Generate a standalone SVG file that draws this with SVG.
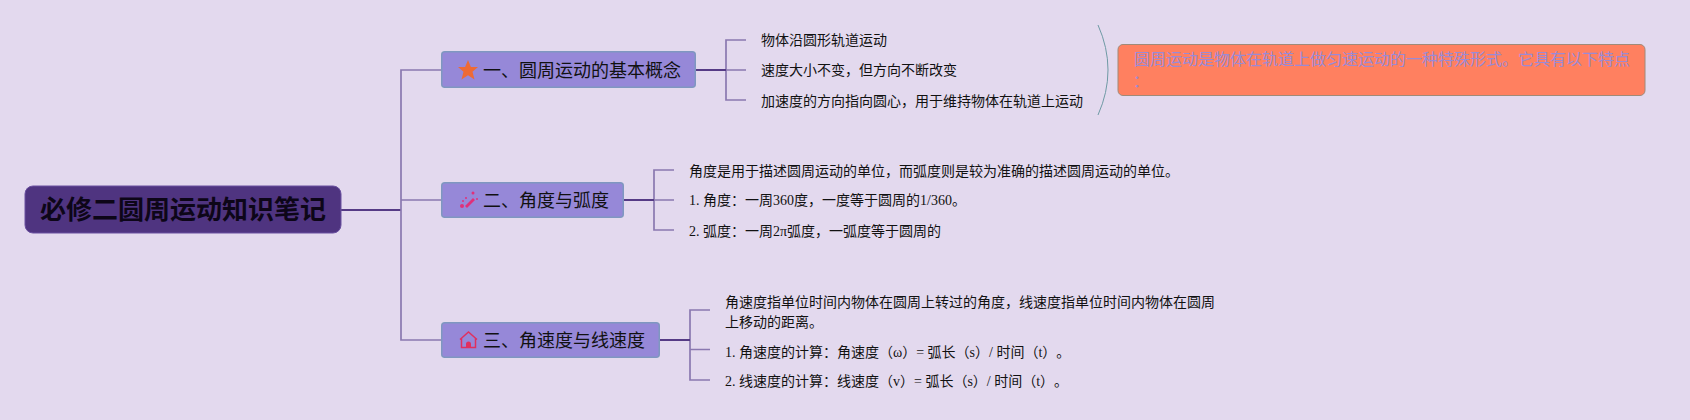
<svg xmlns="http://www.w3.org/2000/svg" width="1690" height="420" viewBox="0 0 1690 420">
<style>
text{font-family:"Liberation Serif","Noto Sans CJK SC",sans-serif;fill:#111;text-spacing-trim:space-all;font-kerning:none}
.leaf{font-size:14px}
.main{font-size:18px}
.sub{fill:#9688d8;stroke:#7f97c0;stroke-width:1.500}
.lt{fill:none;stroke:#8a78b0;stroke-width:1.700}
.dk{fill:none;stroke:#553a85;stroke-width:2}
</style>
<rect width="1690" height="420" fill="#e3d9ee"/>
<g id="connectors">
<path class="dk" d="M341 210H401"/>
<path class="lt" d="M441 70H401V340H441M401 200H441"/>
<path class="lt" d="M746 40H726V100H746M726 70H746"/>
<path class="dk" d="M696 70H726"/>
<path class="lt" d="M674 170H654V230H674M654 200H674"/>
<path class="dk" d="M624 200H654"/>
<path class="lt" d="M710 310H690V380H710M690 349.500H710"/>
<path class="dk" d="M660 340H690"/>
<path d="M1098 25Q1118 70 1098 115" fill="none" stroke="#6f9aa5" stroke-width="1"/>
</g>
<g id="root">
<rect x="25" y="186" width="316" height="47" rx="8" fill="#4f3480" stroke="#6a50a0" stroke-width="1"/>
<text x="40" y="219" font-size="26" font-weight="700" style="fill:#0d0618">必修二圆周运动知识笔记</text>
</g>
<g id="node1">
<rect class="sub" x="441.750" y="51.750" width="253.500" height="35.500" rx="3"/>
<path d="M468 60L470.900 67H478L472.500 71.800L474.500 79.500L468 75.300L461.500 79.500L463.500 71.800L458 67H465.100Z" fill="#ee6a35"/>
<text class="main" x="483" y="77">一、圆周运动的基本概念</text>
</g>
<g id="node2">
<rect class="sub" x="441.750" y="182.750" width="181.500" height="34.500" rx="3"/>
<g fill="#e0307a" stroke="none">
<path d="M465 206L473 198L475 200L467 208Z"/>
<circle cx="462" cy="206" r="2"/><circle cx="473" cy="193" r="1.500"/><circle cx="477" cy="199" r="1"/><circle cx="466" cy="198" r="1"/><circle cx="463" cy="201" r="1"/>
</g>
<text class="main" x="483" y="207">二、角度与弧度</text>
</g>
<g id="node3">
<rect class="sub" x="441.750" y="322.750" width="217.500" height="34.500" rx="3"/>
<path d="M460 339.500L468.500 332L477 339.500M461.500 338V347.500H475.500V338" fill="none" stroke="#e0305f" stroke-width="1.500"/>
<path d="M466 347.500V344a2.500 2.500 0 0 1 5 0V347.500Z" fill="#e0305f"/>
<text class="main" x="483" y="347">三、角速度与线速度</text>
</g>
<g id="leaf1a"><text class="leaf" x="761" y="45">物体沿圆形轨道运动</text></g>
<g id="leaf1b"><text class="leaf" x="761" y="75">速度大小不变，但方向不断改变</text></g>
<g id="leaf1c"><text class="leaf" x="761" y="106">加速度的方向指向圆心，用于维持物体在轨道上运动</text></g>
<g id="callout">
<rect x="1118" y="44.500" width="527" height="51" rx="5" fill="#ff8060" stroke="#a08a78" stroke-width="1"/>
<text x="1134" y="65" font-size="16" style="fill:#9a8ad6">圆周运动是物体在轨道上做匀速运动的一种特殊形式。它具有以下特点</text>
<text x="1133" y="87" font-size="16" style="fill:#9a8ad6">：</text>
</g>
<g id="leaf2a"><text class="leaf" x="689" y="176">角度是用于描述圆周运动的单位，而弧度则是较为准确的描述圆周运动的单位。</text></g>
<g id="leaf2b"><text class="leaf" x="689" y="205">1. 角度：一周360度，一度等于圆周的1/360。</text></g>
<g id="leaf2c"><text class="leaf" x="689" y="236">2. 弧度：一周2π弧度，一弧度等于圆周的</text></g>
<g id="leaf3a"><text class="leaf" x="725" y="307">角速度指单位时间内物体在圆周上转过的角度，线速度指单位时间内物体在圆周</text><text class="leaf" x="725" y="327">上移动的距离。</text></g>
<g id="leaf3b"><text class="leaf" x="725" y="357">1. 角速度的计算：角速度（ω）= 弧长（s）/ 时间（t）。</text></g>
<g id="leaf3c"><text class="leaf" x="725" y="386">2. 线速度的计算：线速度（v）= 弧长（s）/ 时间（t）。</text></g>
</svg>
